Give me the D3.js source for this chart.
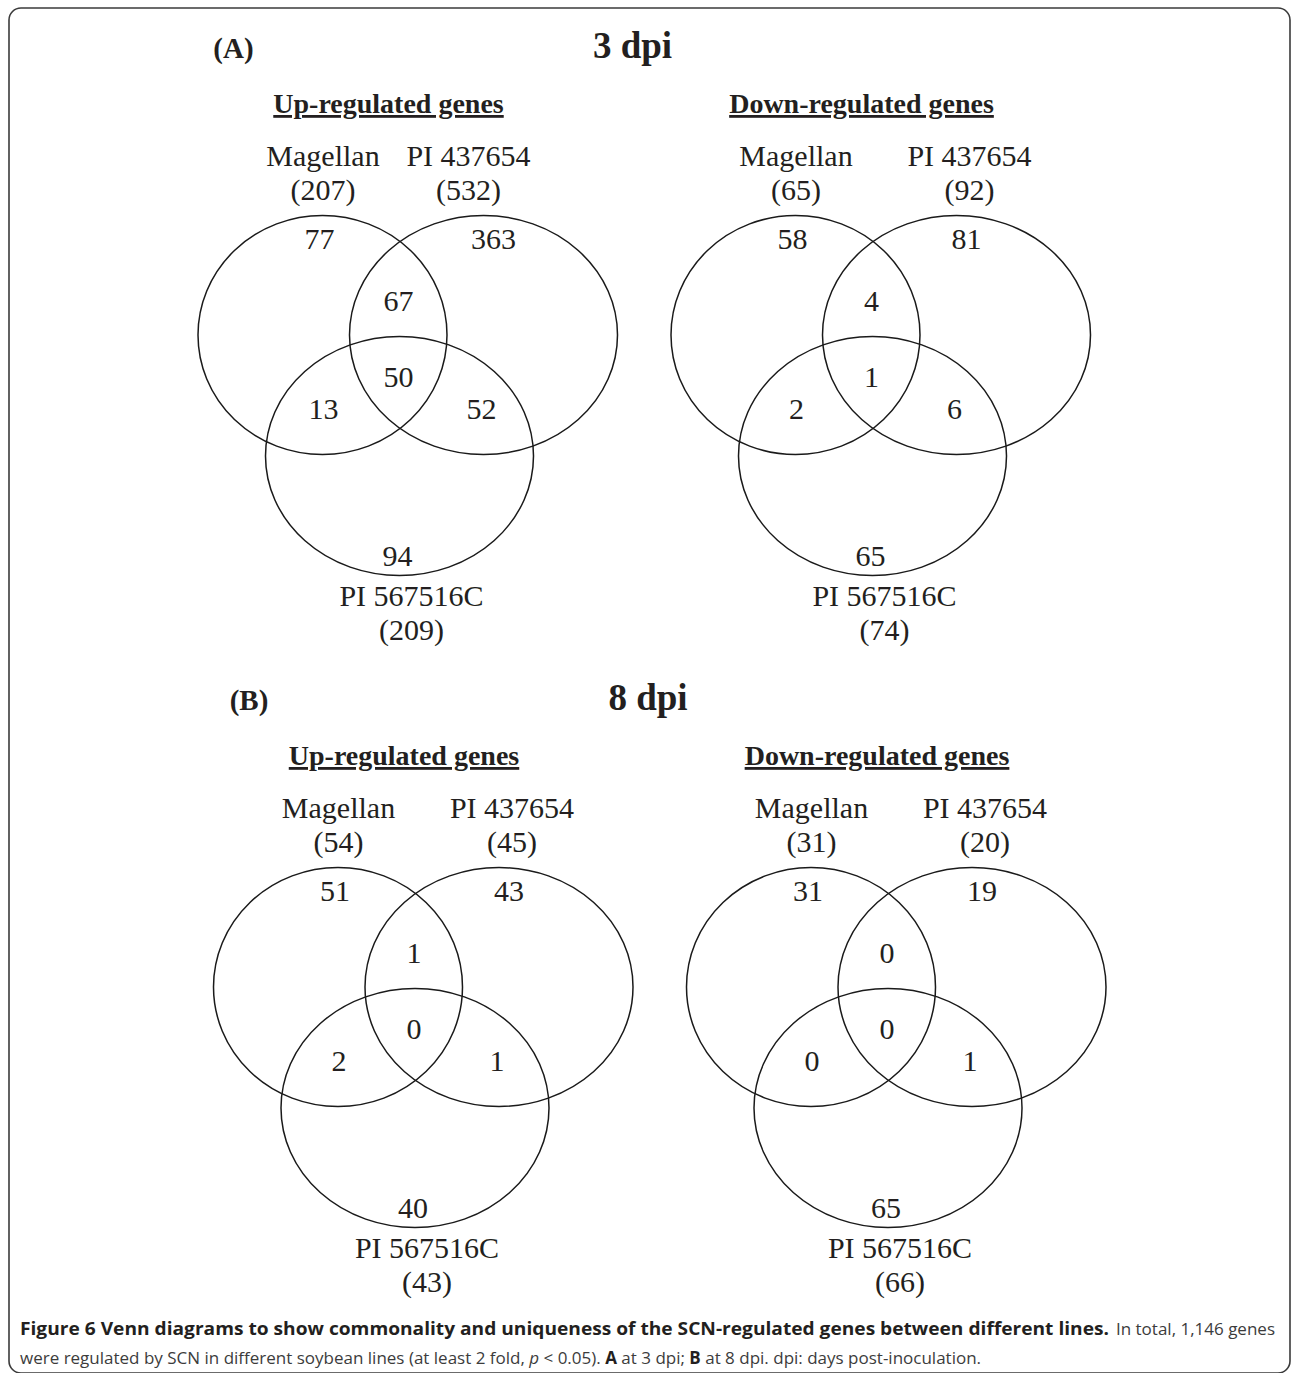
<!DOCTYPE html>
<html>
<head>
<meta charset="utf-8">
<script src="https://cdn.jsdelivr.net/npm/d3@7"></script>
<style>
  body { margin: 0; background: #fff; }
  svg text { fill: #231f20; }
</style>
</head>
<body>
<svg id="fig" width="1292" height="1373"></svg>
<script>
// --- data ---
const panelLetters = ["(A)", "(B)"]
const panelTitles = ["3 dpi", "8 dpi"]
const groupTitles = ["Up-regulated genes", "Down-regulated genes"]
const setNames = ["Magellan", "PI 437654", "PI 567516C"]

// totals per set: Magellan, PI 437654, PI 567516C
const totals3Up = [207, 532, 209]
const totals3Down = [65, 92, 74]
const totals8Up = [54, 45, 43]
const totals8Down = [31, 20, 66]

// region counts: onlyA, onlyB, onlyC, AB, AC, BC, ABC
const regionKeys = ["a", "b", "c", "ab", "ac", "bc", "abc"]
const counts3Up = [77, 363, 94, 67, 13, 52, 50]
const counts3Down = [58, 81, 65, 4, 2, 6, 1]
const counts8Up = [51, 43, 40, 1, 2, 1, 0]
const counts8Down = [31, 19, 65, 0, 0, 1, 0]

const diagrams = [
    {row: 0, col: 0, totals: totals3Up, counts: counts3Up},
    {row: 0, col: 1, totals: totals3Down, counts: counts3Down},
    {row: 1, col: 0, totals: totals8Up, counts: counts8Up},
    {row: 1, col: 1, totals: totals8Down, counts: counts8Down}
]

// --- layout ---
const svg = d3.select("#fig")
const xCol = d3.scaleLinear().domain([0, 1]).range([322.5, 795.5])
const yRow = d3.scaleLinear().domain([0, 1]).range([335, 987])
const rowShift = [0, 15.5]

// ellipses relative to the Magellan centre
const ellipses = [
    {dx: 0, dy: 0, rx: 124.5, ry: 119.5},
    {dx: 161, dy: 0, rx: 134, ry: 119.5},
    {dx: 77, dy: 121, rx: 134, ry: 119.5}
]
const regionPos = {
    a: [-3, -86], b: [171, -86], c: [75, 231],
    ab: [76, -24], ac: [1, 84], bc: [159, 84], abc: [76, 52]
}
const topLabelShift = [-28, 0, 0, 0]

const serif = "'Liberation Serif', 'Times New Roman', serif"

svg.append("rect")
    .attr("x", 9).attr("y", 8)
    .attr("width", 1281).attr("height", 1365)
    .attr("rx", 12)
    .attr("fill", "none")
    .attr("stroke", "#3b3b3b")
    .attr("stroke-width", 1.6)

// panel headers
panelLetters.forEach((p, i) => {
    const cx = xCol(0) + rowShift[i]
    const base = yRow(i) - 277
    svg.append("text")
        .attr("x", cx - 89).attr("y", base)
        .attr("text-anchor", "middle")
        .style("font-family", serif).style("font-weight", "bold").style("font-size", "29px")
        .text(p)
    svg.append("text")
        .attr("x", cx + 310).attr("y", base)
        .attr("text-anchor", "middle")
        .style("font-family", serif).style("font-weight", "bold").style("font-size", "37px")
        .text(panelTitles[i])
})

diagrams.forEach((d, k) => {
    const ox = xCol(d.col) + rowShift[d.row]
    const oy = yRow(d.row)
    const g = svg.append("g").attr("transform", `translate(${ox},${oy})`)

    g.append("text")
        .attr("x", 66).attr("y", -222)
        .attr("text-anchor", "middle")
        .style("font-family", serif).style("font-weight", "bold").style("font-size", "28px")
        .style("text-decoration", "underline")
        .text(groupTitles[d.col])

    g.selectAll("ellipse")
        .data(ellipses)
        .enter()
        .append("ellipse")
        .attr("cx", e => e.dx)
        .attr("cy", e => e.dy)
        .attr("rx", e => e.rx)
        .attr("ry", e => e.ry)
        .attr("fill", "none")
        .attr("stroke", "#1a1a1a")
        .attr("stroke-width", 1.5)

    const labelPos = [
        [0.5, -169, -135],
        [174 + topLabelShift[k], -169, -135],
        [89, 271, 305]
    ]
    setNames.forEach((name, i) => {
        g.append("text")
            .attr("x", labelPos[i][0]).attr("y", labelPos[i][1])
            .attr("text-anchor", "middle")
            .style("font-family", serif).style("font-size", "30px")
            .text(name)
        g.append("text")
            .attr("x", labelPos[i][0]).attr("y", labelPos[i][2])
            .attr("text-anchor", "middle")
            .style("font-family", serif).style("font-size", "30px")
            .text(`(${d.totals[i]})`)
    })

    g.selectAll("text.count")
        .data(d.counts)
        .enter()
        .append("text")
        .attr("class", "count")
        .attr("x", (v, i) => regionPos[regionKeys[i]][0])
        .attr("y", (v, i) => regionPos[regionKeys[i]][1])
        .attr("text-anchor", "middle")
        .style("font-family", serif).style("font-size", "30px")
        .text(v => v)
})

// caption: regular runs at natural width, the bold title squeezed to fit line 1
const sans = "'Open Sans', 'Noto Sans', sans-serif"
const cap = svg.append("g").style("font-family", sans).style("font-size", "17px")

const line2 = cap.append("text").attr("x", 20).attr("y", 1364)
    .style("fill", "#3c3c3c")
line2.append("tspan").text("were regulated by SCN in different soybean lines (at least 2 fold, ")
line2.append("tspan").style("font-style", "italic").text("p")
line2.append("tspan").text(" < 0.05). ")
line2.append("tspan").style("font-weight", "bold").style("fill", "#231f20").text("A")
line2.append("tspan").text(" at 3 dpi; ")
line2.append("tspan").style("font-weight", "bold").style("fill", "#231f20").text("B")
line2.append("tspan").text(" at 8 dpi. dpi: days post-inoculation.")

const regular = cap.append("text").attr("x", 1275).attr("y", 1335)
    .attr("text-anchor", "end")
    .style("fill", "#3c3c3c")
    .text("In total, 1,146 genes")
const regW = regular.node().getComputedTextLength()

const boldW = 1275 - regW - 7 - 20
cap.append("text").attr("x", 20).attr("y", 1335)
    .attr("textLength", boldW).attr("lengthAdjust", "spacingAndGlyphs")
    .style("font-weight", "bold").style("fill", "#231f20")
    .text("Figure 6 Venn diagrams to show commonality and uniqueness of the SCN-regulated genes between different lines.")
</script>
</body>
</html>
